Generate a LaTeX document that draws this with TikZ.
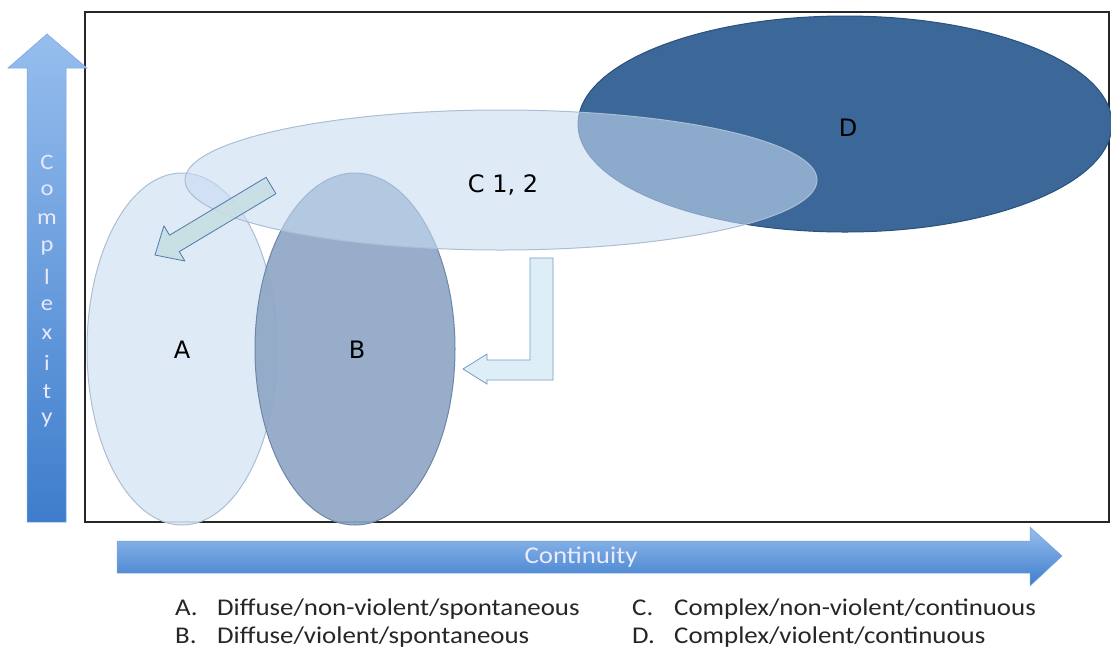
\documentclass[tikz,border=0pt]{standalone}
\usepackage{fontspec}
\setmainfont{Carlito}[FakeStretch=1.12]
\newfontfamily\lblfont{DejaVu Sans}
\begin{document}
\begin{tikzpicture}[x=1pt,y=-1pt,
  lbl/.style={font=\lblfont\fontsize{24}{26}\selectfont, text=black},
  legend/.style={font=\fontsize{24}{26}\selectfont, anchor=base west, inner sep=0pt, text=black!85},
  axletter/.style={font=\fontsize{22}{22}\selectfont, text=white!80!blue!45, inner sep=0pt}
]
\definecolor{Afill}{RGB}{219,232,246}
\definecolor{Aedge}{RGB}{170,190,212}
\definecolor{Bfill}{RGB}{143,167,198}
\definecolor{Bedge}{RGB}{110,135,168}
\definecolor{Cfill}{RGB}{200,220,242}
\definecolor{Cedge}{RGB}{170,190,212}
\definecolor{Dfill}{RGB}{59,104,153}
\definecolor{Dedge}{RGB}{42,80,125}
\definecolor{arrTop}{RGB}{150,190,238}
\definecolor{arrBot}{RGB}{62,125,204}
\definecolor{arrEdge}{RGB}{120,165,225}
\definecolor{diagFill}{RGB}{197,222,226}
\definecolor{diagEdge}{RGB}{80,120,175}
\definecolor{elFill}{RGB}{222,238,246}
\definecolor{elEdge}{RGB}{120,155,195}

\useasboundingbox (0,0) rectangle (1111,649);
\fill[white] (0,0) rectangle (1111,649);

% frame
\coordinate (f1) at (85,12);
\coordinate (f2) at (1109,522);
\draw[line width=1.3pt, black!85] (f1) rectangle (f2);

% ellipses
\path[draw=Dedge, line width=1pt, fill=Dfill] (845,124) ellipse [x radius=267, y radius=108];
\path[draw=Aedge, line width=1pt, fill=Afill, fill opacity=0.9] (182,349) ellipse [x radius=95, y radius=176];
\path[draw=Bedge, line width=1pt, fill=Bfill, fill opacity=0.92] (355,349) ellipse [x radius=100, y radius=176];
\path[draw=Cedge, line width=1pt, fill=Cfill, fill opacity=0.58] (501,180) ellipse [x radius=316, y radius=70];

\node[lbl] (A) at (182,350) {A};
\node[lbl] (B) at (357,350) {B};
\node[lbl] (C) at (503,185) {C 1, 2};
\node[lbl] (D) at (848,128) {D};

% diagonal block arrow
\path[draw=diagEdge, line width=0.8pt, fill=diagFill, fill opacity=0.85, line join=round]
  (275.9,193.7) -- (266.1,177.3) -- (169.5,235.2) -- (163.9,225.8) -- (155,255)
  -- (184.9,261.0) -- (179.3,251.6) -- cycle;

% L-shaped arrow
\path[draw=elEdge, line width=0.8pt, fill=elFill]
  (530,258) -- (553,258) -- (553,380) -- (487,380) -- (487,384) -- (463,369)
  -- (487,354) -- (487,360) -- (530,360) -- cycle;

% vertical axis arrow
\shade[top color=arrTop, bottom color=arrBot]
  (27,522) -- (27,68) -- (8,68) -- (47,34) -- (87,68) -- (66,68) -- (66,522) -- cycle;
\draw[arrEdge, line width=0.5pt]
  (27,522) -- (27,68) -- (8,68) -- (47,34) -- (87,68) -- (66,68) -- (66,522) -- cycle;
\foreach \ch [count=\i from 0] in {C,o,m,p,l,e,x,i,t,y}
  \node[axletter] (cx\i) at (47,162+28.7*\i) {\ch};

% horizontal axis arrow
\shade[top color=arrTop, bottom color=arrBot]
  (117,541) -- (1030,541) -- (1030,527) -- (1062,556) -- (1030,586) -- (1030,573) -- (117,573) -- cycle;
\draw[arrEdge, line width=0.5pt]
  (117,541) -- (1030,541) -- (1030,527) -- (1062,556) -- (1030,586) -- (1030,573) -- (117,573) -- cycle;
\node[font=\fontsize{24}{26}\selectfont, text=white!92!blue] (cont) at (581,557) {Continuity};

% legend
\node[legend] (la) at (175,615) {A.};
\node[legend] (lat) at (217,615) {Diffuse/non-violent/spontaneous};
\node[legend] (lb) at (175,643) {B.};
\node[legend] (lbt) at (217,643) {Diffuse/violent/spontaneous};
\node[legend] (lc) at (632,615) {C.};
\node[legend] (lct) at (674,615) {Complex/non-violent/continuous};
\node[legend] (ld) at (632,643) {D.};
\node[legend] (ldt) at (674,643) {Complex/violent/continuous};
\end{tikzpicture}
\end{document}
